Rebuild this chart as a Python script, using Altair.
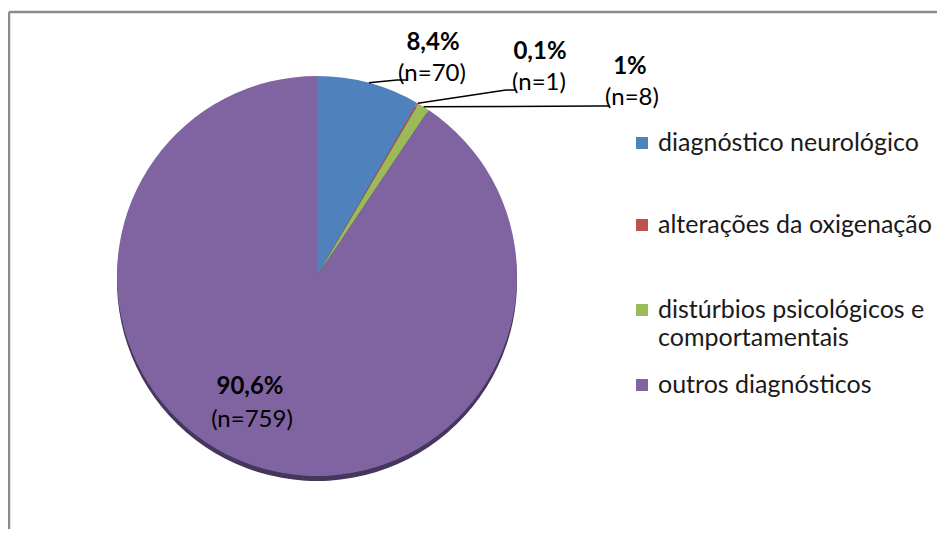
import math
import altair as alt
import pandas as pd

# ---- data ----
categories = [
    "diagnóstico neurológico",
    "alterações da oxigenação",
    "distúrbios psicológicos e comportamentais",
    "outros diagnósticos",
]
counts = [70, 1, 8, 759]
pct_labels = ["8,4%", "0,1%", "1%", "90,6%"]
n_labels = ["(n=70)", "(n=1)", "(n=8)", "(n=759)"]
colors = ["#4F81BD", "#C0504D", "#9BBB59", "#8064A2"]
legend_lines = [
    ["diagnóstico neurológico"],
    ["alterações da oxigenação"],
    ["distúrbios psicológicos e", "comportamentais"],
    ["outros diagnósticos"],
]

# ---- layout (pixels, chart coordinates) ----
W, H = 928, 517
CX, CY, R = 308, 264, 200
FONT = "Lato"
pct_pos = [(424, 31), (531, 40), (621, 55), (241, 375)]
n_pos = [(423, 62), (530, 71), (623, 86), (243, 408)]
leader_ends = [(388, 68), (497, 78), (591, 94), None]
legend_sq_x = 633
legend_txt_x = 649
legend_y = [131, 213, 298, 373]

total = sum(counts)
df = pd.DataFrame({"cat": categories, "value": counts, "order": range(len(counts))})

color_scale = alt.Scale(domain=categories, range=colors)

# outer frame (top and left edges; the rest runs off the picture)
frame = alt.Chart(pd.DataFrame({"k": [0]})).mark_rule(color="#8c8c8c", strokeWidth=2.5)
frame_top = frame.encode(x=alt.value(0), x2=alt.value(W), y=alt.value(0))
frame_left = frame.encode(y=alt.value(0), y2=alt.value(H), x=alt.value(0))

# shadow (3D edge)
shadow = alt.Chart(df).mark_arc(outerRadius=R, color="#45365c").encode(
    theta=alt.Theta("value:Q", stack=True),
    order=alt.Order("order:Q"),
    x=alt.value(CX),
    y=alt.value(CY + 5),
)

pie = alt.Chart(df).mark_arc(outerRadius=R).encode(
    theta=alt.Theta("value:Q", stack=True),
    color=alt.Color("cat:N", scale=color_scale, legend=None),
    order=alt.Order("order:Q"),
    x=alt.value(CX),
    y=alt.value(CY),
)

# leader lines: from slice mid-angle on the rim to the label
rows = []
cum = 0
for i, v in enumerate(counts):
    mid = (cum + v / 2) / total * 2 * math.pi
    cum += v
    if leader_ends[i] is None:
        continue
    ex = CX + R * math.sin(mid)
    ey = CY - R * math.cos(mid)
    lx, ly = leader_ends[i]
    rows.append({"x": ex, "y": ey, "x2": lx, "y2": ly})
    rows.append({"x": lx, "y": ly, "x2": lx + 10, "y2": ly})
lead_df = pd.DataFrame(rows)
leaders = alt.Chart(lead_df).mark_rule(color="black", strokeWidth=1.5).encode(
    x=alt.X("x:Q", scale=None, axis=None),
    y=alt.Y("y:Q", scale=None, axis=None),
    x2="x2:Q",
    y2="y2:Q",
)

lab_df = pd.DataFrame({
    "pct": pct_labels,
    "n": n_labels,
    "px": [p[0] for p in pct_pos],
    "py": [p[1] for p in pct_pos],
    "nx": [p[0] for p in n_pos],
    "ny": [p[1] for p in n_pos],
})
pct_text = alt.Chart(lab_df).mark_text(
    font=FONT, fontSize=24, fontWeight="bold", color="black", align="center", baseline="middle"
).encode(
    x=alt.X("px:Q", scale=None, axis=None),
    y=alt.Y("py:Q", scale=None, axis=None),
    text="pct:N",
)
n_text = alt.Chart(lab_df).mark_text(
    font=FONT, fontSize=24, color="black", align="center", baseline="middle"
).encode(
    x=alt.X("nx:Q", scale=None, axis=None),
    y=alt.Y("ny:Q", scale=None, axis=None),
    text="n:N",
)

# legend
leg_df = pd.DataFrame({
    "cat": categories,
    "lines": legend_lines,
    "sx": [legend_sq_x] * 4,
    "tx": [legend_txt_x] * 4,
    "ly": legend_y,
})
leg_sq = alt.Chart(leg_df).mark_square(size=144, opacity=1, filled=True).encode(
    x=alt.X("sx:Q", scale=None, axis=None),
    y=alt.Y("ly:Q", scale=None, axis=None),
    color=alt.Color("cat:N", scale=color_scale, legend=None),
)
leg_txt = alt.Chart(leg_df).mark_text(
    font=FONT, fontSize=25, color="#1a1a1a", align="left", baseline="middle", lineHeight=28
).encode(
    x=alt.X("tx:Q", scale=None, axis=None),
    y=alt.Y("ly:Q", scale=None, axis=None),
    text="lines",
)

chart = alt.layer(
    frame_top, frame_left, shadow, pie, leaders, pct_text, n_text, leg_sq, leg_txt
).properties(
    width=W,
    height=H,
    padding={"left": 1, "top": 4, "right": 0, "bottom": 0},
    autosize=alt.AutoSizeParams(type="none"),
).configure_view(stroke=None)

chart.save("out.html", embed_options={"renderer": "svg", "actions": False})
